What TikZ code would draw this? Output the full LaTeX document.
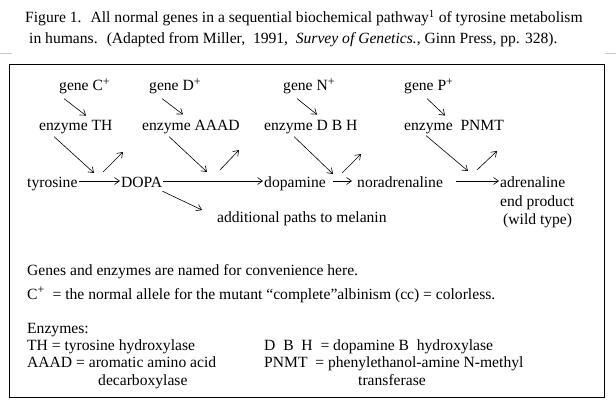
\documentclass[tikz,border=0pt]{standalone}
\usepackage{fontspec}
\setmainfont{Liberation Serif}
\usepackage{xcolor}
\usepackage{tikz}
\usetikzlibrary{calc,arrows.meta}
\definecolor{bg}{HTML}{FFFFFF}
\definecolor{ink}{HTML}{000000}
\definecolor{rulegray}{HTML}{C8C8C8}
\newcommand{\plusup}{\textsuperscript{\fontsize{12}{12}\selectfont +}}
\tikzset{
  ubox/.style={draw=ink, line width=1pt},
  rulebit/.style={draw=rulegray, line width=1pt},
  lab/.style={text=ink, inner sep=1pt, anchor=base west, font=\fontsize{15.6}{18}\selectfont},
  rxn/.style={text height=12pt, text depth=0pt},
  arr/.style={draw=ink, line width=0.6pt, -{Straight Barb[length=5pt,width=7pt]}}
}

\begin{document}
\begin{tikzpicture}[x=1pt,y=-1pt]
  \useasboundingbox (0,0) rectangle (616,420);
  \fill[bg] (0,0) rectangle (616,420);

  % caption and rule
  \node[lab] (cap1) at (24,23) {Figure 1.~ All normal genes in a sequential biochemical pathway\textsuperscript{1} of tyrosine metabolism};
  \node[lab] (cap2) at (28,44) {in humans.~ (Adapted from Miller,~ 1991,~ \textit{Survey of Genetics.}, Ginn Press, pp. 328).};
  \draw[rulebit] (0,54) -- (12,54);
  \draw[rulebit] (605,54) -- (616,54);

  \draw[ubox] (9.5,64.5) rectangle (604.5,397.5);

  % genes and enzymes
  \node[lab] (gC) at (58,91)  {gene C\plusup};
  \node[lab] (gD) at (148,91) {gene D\plusup};
  \node[lab] (gN) at (282,91) {gene N\plusup};
  \node[lab] (gP) at (403,91) {gene P\plusup};

  \node[lab] (eTH)   at (38,130)  {enzyme TH};
  \node[lab] (eAAAD) at (141,130) {enzyme AAAD};
  \node[lab] (eDBH)  at (263,130) {enzyme D B H};
  \node[lab] (ePNMT) at (403,130) {enzyme~ PNMT};

  % pathway
  \node[lab,rxn] (tyr)  at (26,187)  {tyrosine};
  \node[lab,rxn] (dopa) at (120,187) {DOPA};
  \node[lab,rxn] (dpm)  at (263,187) {dopamine};
  \node[lab,rxn] (nor)  at (356,187) {noradrenaline};
  \node[lab,rxn] (adr)  at (499,187) {adrenaline};
  \node[lab] (endp) at (499,206) {end product};
  \node[lab] (wild) at (502,224) {(wild type)};
  \node[lab] (mel)  at (216,222) {additional paths to melanin};

  % free ends of the enzyme and product arrows
  \coordinate (hitTH)   at (94,173);
  \coordinate (hitAAAD) at (207,172);
  \coordinate (hitDBH)  at (333,174);
  \coordinate (hitPNMT) at (468,171);
  \coordinate (upTHa)   at (103,172);  \coordinate (upTHb)   at (123,152);
  \coordinate (upAAADa) at (220,170);  \coordinate (upAAADb) at (239,150);
  \coordinate (upDBHa)  at (342,173);  \coordinate (upDBHb)  at (361,154);
  \coordinate (upPNMTa) at (477,170);  \coordinate (upPNMTb) at (497,151);
  \coordinate (toMel)   at (202,210);

  % gene -> enzyme
  \draw[arr] ([xshift=6pt,yshift=-3pt]gC.south west) -- ([xshift=48pt,yshift=3pt]eTH.north west);
  \draw[arr] ([xshift=14pt,yshift=-3pt]gD.south west) -- ([xshift=42pt,yshift=4pt]eAAAD.north west);
  \draw[arr] ([xshift=15pt,yshift=-3pt]gN.south west) -- ([xshift=54pt,yshift=4pt]eDBH.north west);
  \draw[arr] ([xshift=24pt,yshift=-3pt]gP.south west) -- ([xshift=42pt,yshift=3pt]ePNMT.north west);

  % enzyme -> step
  \draw[arr] ([xshift=16pt,yshift=-2pt]eTH.south west) -- (hitTH);
  \draw[arr] ([xshift=28pt,yshift=-2pt]eAAAD.south west) -- (hitAAAD);
  \draw[arr] ([xshift=31pt,yshift=-2pt]eDBH.south west) -- (hitDBH);
  \draw[arr] ([xshift=23pt,yshift=-1pt]ePNMT.south west) -- (hitPNMT);

  \draw[arr] (upTHa) -- (upTHb);
  \draw[arr] (upAAADa) -- (upAAADb);
  \draw[arr] (upDBHa) -- (upDBHb);
  \draw[arr] (upPNMTa) -- (upPNMTb);

  % reactions
  \draw[arr] (tyr.east) -- (dopa.west);
  \draw[arr] (dopa.east) -- (dpm.west);
  \draw[arr] ([xshift=6pt]dpm.east) -- ([xshift=-4pt]nor.west);
  \draw[arr] ([xshift=12pt]nor.east) -- (adr.west);
  \draw[arr] ([xshift=-1pt,yshift=-3pt]dopa.south east) -- (toMel);

  % notes
  \node[lab] (n1) at (26,275) {Genes and enzymes are named for convenience here.};
  \node[lab] (n2) at (26,299) {C\plusup~ = the normal allele for the mutant “complete”albinism (cc) = colorless.};
  \node[lab] (n3) at (26,333) {Enzymes:};
  \node[lab] (k1) at (26,350) {TH = tyrosine hydroxylase};
  \node[lab] (k2) at (26,367) {AAAD = aromatic amino acid};
  \node[lab] (k3) at (97,385) {decarboxylase};
  \node[lab] (k4) at (263,350) {D~ B~ H~ = dopamine B~ hydroxylase};
  \node[lab] (k5) at (263,367) {PNMT~ = phenylethanol-amine N-methyl};
  \node[lab] (k6) at (357,385) {transferase};
\end{tikzpicture}
\end{document}
